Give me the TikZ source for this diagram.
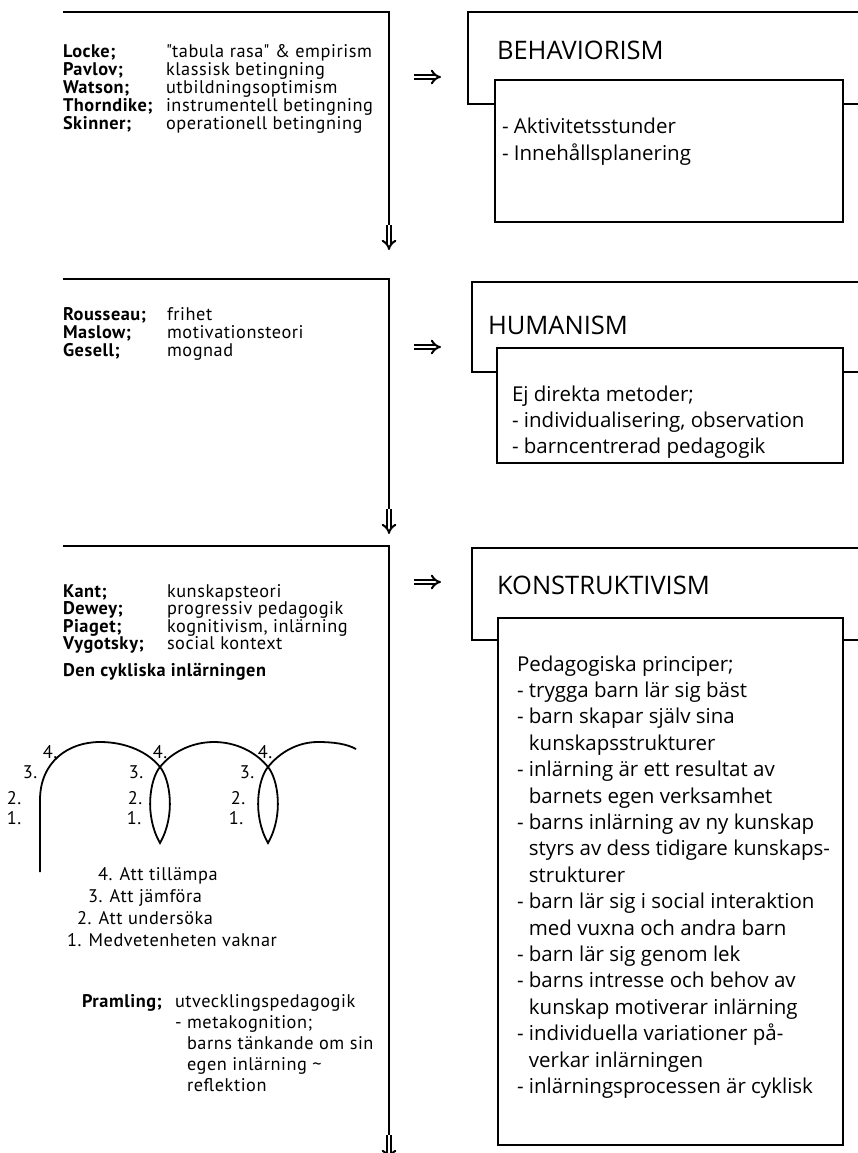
\documentclass[tikz,border=0pt]{standalone}
\usepackage{fontspec}
\setmainfont{Open Sans}
\newfontfamily\leftfont{PT Sans}[LetterSpace=3]
\usetikzlibrary{arrows.meta,positioning}

\begin{document}
\begin{tikzpicture}[x=1pt, y=-1pt,
  every node/.style={inner sep=0pt, outer sep=0pt},
  lefttxt/.style={anchor=base west, font=\leftfont\fontsize{18.3}{21}\selectfont},
  looplbl/.style={font=\leftfont\fontsize{18.3}{21}\selectfont},
  boxtxt/.style={anchor=base west, font=\fontsize{20.5}{26.4}\selectfont},
  titletxt/.style={anchor=west, font=\fontsize{25.5}{28}\selectfont},
  panel/.style={line width=1.9pt},
  header/.style={line width=2.7pt},
  innerbox/.style={draw, line width=1.9pt, fill=white, anchor=north west},
  dnarrow/.style={double, double distance=2.8pt, line width=2pt, -{Implies}},
  loopline/.style={line width=1.8pt}]
   \useasboundingbox (0,0) rectangle (858,1153);
   \clip (0,0) rectangle (858,1153);

   % left panels
   \coordinate (p1a) at (63,12);
   \coordinate (p1b) at (389,12);
   \coordinate (p1c) at (389,225);
   \coordinate (p1d) at (389,250);
   \coordinate (p2a) at (63,279);
   \coordinate (p2b) at (389,279);
   \coordinate (p2c) at (389,509);
   \coordinate (p2d) at (389,534);
   \coordinate (p3a) at (63,546);
   \coordinate (p3b) at (389,546);
   \coordinate (p3c) at (389,1135);
   \coordinate (p3d) at (389,1160);
   \draw[panel] (p1a) -- (p1b) -- (p1c);
   \draw[panel] (p2a) -- (p2b) -- (p2c);
   \draw[panel] (p3a) -- (p3b) -- (p3c);
   \draw[dnarrow] (p1c) -- (p1d);
   \draw[dnarrow] (p2c) -- (p2d);
   \draw[dnarrow] (p3c) -- (p3d);

   % names and ideas
   \foreach \nm/\tx [count=\i from 0] in {Locke;/{\textquotedbl tabula rasa\textquotedbl{} \& empirism},
       Pavlov;/klassisk betingning, Watson;/utbildningsoptimism,
       Thorndike;/instrumentell betingning, Skinner;/operationell betingning} {
     \node[lefttxt] (nameA\i) at (63,58+18*\i) {\textbf{\nm}};
     \node[lefttxt] (ideaA\i) at (166,58+18*\i) {\tx};
   }
   \foreach \nm/\tx [count=\i from 0] in {Rousseau;/frihet, Maslow;/motivationsteori, Gesell;/mognad} {
     \node[lefttxt] (nameB\i) at (63,320+18*\i) {\textbf{\nm}};
     \node[lefttxt] (ideaB\i) at (167,320+18*\i) {\tx};
   }
   \foreach \nm/\tx [count=\i from 0] in {Kant;/kunskapsteori, Dewey;/progressiv pedagogik,
       Piaget;/{kognitivism, inlärning}, Vygotsky;/social kontext} {
     \node[lefttxt] (nameC\i) at (63,597+17.5*\i) {\textbf{\nm}};
     \node[lefttxt] (ideaC\i) at (167,597+17.5*\i) {\tx};
   }
   \node[lefttxt] (cyk) at (63,676) {\textbf{Den cykliska inlärningen}};

   % the cyclic curve
   \draw[loopline] (40,872) -- (40,800)
     .. controls (40,762) and (68,742) .. (100,742)
     .. controls (126,742) and (148,752) .. (160,767)
     .. controls (170,779) and (176,815) .. (160,843)
     .. controls (144,815) and (150,779) .. (160,767)
     .. controls (172,752) and (192,742) .. (214,742)
     .. controls (236,742) and (256,752) .. (268,767)
     .. controls (278,779) and (284,815) .. (268,843)
     .. controls (252,815) and (258,779) .. (268,767)
     .. controls (280,752) and (298,742) .. (318,742)
     .. controls (334,742) and (347,744) .. (356,749);
   \node[looplbl] (a4) at (50,752) {4.};
   \node[looplbl] (a3) at (30,772) {3.};
   \node[looplbl] (a2) at (14,798) {2.};
   \node[looplbl] (a1) at (14,818) {1.};
   \node[looplbl] (b4) at (160,752) {4.};
   \node[looplbl] (b3) at (136,772) {3.};
   \node[looplbl] (b2) at (135,798) {2.};
   \node[looplbl] (b1) at (134,818) {1.};
   \node[looplbl] (c4) at (265,752) {4.};
   \node[looplbl] (c3) at (247,772) {3.};
   \node[looplbl] (c2) at (238,798) {2.};
   \node[looplbl] (c1) at (236,818) {1.};

   \node[lefttxt] (st4) at (98,880) {4. Att tillämpa};
   \node[lefttxt] (st3) at (88,902) {3. Att jämföra};
   \node[lefttxt] (st2) at (77,924) {2. Att undersöka};
   \node[lefttxt] (st1) at (67,946) {1. Medvetenheten vaknar};

   \node[lefttxt] (pram) at (82,1007) {\textbf{Pramling;}};
   \node[lefttxt] (pramtxt) at (175,1007)
     {\begin{tabular}[t]{@{}l@{}}
      utvecklingspedagogik\\
      - metakognition;\\
      \phantom{- }barns tänkande om sin\\
      \phantom{- }egen inlärning \textasciitilde\\
      \phantom{- }reflektion
     \end{tabular}};

   % arrows to the right
   \coordinate (r1a) at (414,77);
   \coordinate (r1b) at (441,77);
   \coordinate (r2a) at (414,347);
   \coordinate (r2b) at (441,347);
   \coordinate (r3a) at (414,582);
   \coordinate (r3b) at (441,582);
   \draw[dnarrow] (r1a) -- (r1b);
   \draw[dnarrow] (r2a) -- (r2b);
   \draw[dnarrow] (r3a) -- (r3b);

   % right boxes
   \draw[header] (870,12) -- (468,12) -- (468,104) -- (870,104);
   \draw[header] (870,282) -- (472,282) -- (472,372) -- (870,372);
   \draw[header] (870,548) -- (472,548) -- (472,640) -- (870,640);
   \node[titletxt] (behav) at (497,50) {BEHAVIORISM};
   \node[titletxt] (human) at (488,325) {HUMANISM};
   \node[titletxt] (konst) at (497,585) {KONSTRUKTIVISM};

   \node[innerbox, minimum width=348pt, minimum height=142pt] (behavbox) at (495,80) {};
   \node[innerbox, minimum width=346pt, minimum height=115pt] (humanbox) at (497,348) {};
   \node[innerbox, minimum width=345pt, minimum height=527pt] (konstbox) at (498,618) {};

   \node[boxtxt] (behavtxt) at (502,134) {\begin{tabular}[t]{@{}l@{}}
      - Aktivitetsstunder\\
      - Innehållsplanering
     \end{tabular}};
   \node[boxtxt] (humantxt) at (512,401) {\begin{tabular}[t]{@{}l@{}}
      Ej direkta metoder;\\
      - individualisering, observation\\
      - barncentrerad pedagogik
     \end{tabular}};
   \node[boxtxt] (konsttxt) at (517,671) {\begin{tabular}[t]{@{}l@{}}
      Pedagogiska principer;\\
      - trygga barn lär sig bäst\\
      - barn skapar själv sina\\
      \phantom{- }kunskapsstrukturer\\
      - inlärning är ett resultat av\\
      \phantom{- }barnets egen verksamhet\\
      - barns inlärning av ny kunskap\\
      \phantom{- }styrs av dess tidigare kunskaps-\\
      \phantom{- }strukturer\\
      - barn lär sig i social interaktion\\
      \phantom{- }med vuxna och andra barn\\
      - barn lär sig genom lek\\
      - barns intresse och behov av\\
      \phantom{- }kunskap motiverar inlärning\\
      - individuella variationer på-\\
      \phantom{- }verkar inlärningen\\
      - inlärningsprocessen är cyklisk
     \end{tabular}};
\end{tikzpicture}
\end{document}
